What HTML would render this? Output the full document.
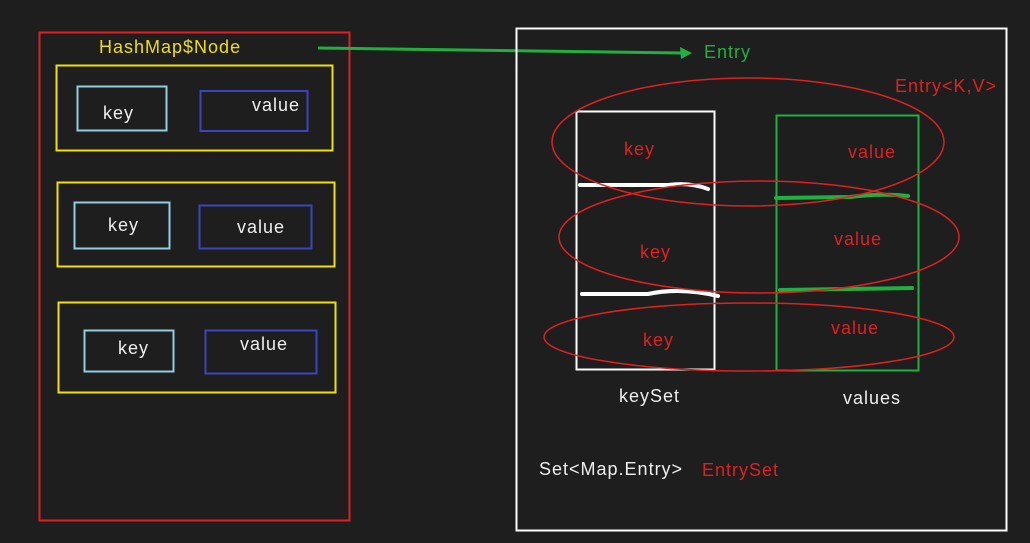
<!DOCTYPE html>
<html><head><meta charset="utf-8"><style>
html,body{margin:0;padding:0;background:#1e1e1e;}
svg{display:block;}
text{font-family:"Liberation Sans","Noto Sans CJK SC",sans-serif;font-size:18px;letter-spacing:1px;}
</style></head><body>
<svg width="1030" height="543" viewBox="0 0 1030 543" xmlns="http://www.w3.org/2000/svg">
<rect width="1030" height="543" fill="#1e1e1e"/>
<rect x="39.5" y="32.5" width="310" height="488" fill="none" stroke="#e02020" stroke-width="2"/>
<text x="99" y="53" fill="#f0e000">HashMap$Node</text>
<rect x="56.5" y="65.5" width="276" height="85" fill="none" stroke="#f0e000" stroke-width="2"/>
<rect x="77.5" y="86.5" width="89" height="44" fill="none" stroke="#8fd0e0" stroke-width="2"/>
<text x="103" y="119" fill="#eee">key</text>
<rect x="200.5" y="91" width="107" height="40" fill="none" stroke="#3a45c0" stroke-width="2"/>
<text x="252" y="111" fill="#eee">value</text>

<rect x="57.5" y="182.5" width="277" height="84" fill="none" stroke="#f0e000" stroke-width="2"/>
<rect x="74.5" y="202.5" width="95" height="46" fill="none" stroke="#8fd0e0" stroke-width="2"/>
<text x="108" y="231" fill="#eee">key</text>
<rect x="199.5" y="205.5" width="112" height="43" fill="none" stroke="#3a45c0" stroke-width="2"/>
<text x="237" y="233" fill="#eee">value</text>

<rect x="58.5" y="302.5" width="277" height="90" fill="none" stroke="#f0e000" stroke-width="2"/>
<rect x="84.5" y="330.5" width="89" height="41" fill="none" stroke="#8fd0e0" stroke-width="2"/>
<text x="118" y="354" fill="#eee">key</text>
<rect x="205.5" y="330.5" width="111" height="43" fill="none" stroke="#3a45c0" stroke-width="2"/>
<text x="240" y="350" fill="#eee">value</text>

<line x1="318" y1="48" x2="683" y2="53" stroke="#20b040" stroke-width="3"/>
<polygon points="692,53 680,47 681,59" fill="#20b040"/>
<text x="704" y="58" fill="#20b040">Entry</text>

<rect x="516.5" y="28.5" width="490" height="502" fill="none" stroke="#fff" stroke-width="2"/>
<text x="895" y="92" fill="#e02020">Entry&lt;K,V&gt;</text>
<rect x="576.5" y="111.5" width="138" height="258" fill="none" stroke="#fff" stroke-width="2"/>
<rect x="776.5" y="115.5" width="142" height="255" fill="none" stroke="#20b040" stroke-width="2"/>
<path d="M580 185 L668 185 Q690 182 708 189" stroke="#fff" stroke-width="4" fill="none" stroke-linecap="round"/>
<path d="M582 294 L648 294 Q680 287 718 296" stroke="#fff" stroke-width="4" fill="none" stroke-linecap="round"/>
<path d="M776 198 L850 197 Q880 193 908 196" stroke="#20b040" stroke-width="4" fill="none" stroke-linecap="round"/>
<path d="M780 290 L912 288" stroke="#20b040" stroke-width="4" fill="none" stroke-linecap="round"/>
<ellipse cx="748" cy="142" rx="196" ry="64" fill="none" stroke="#e02020" stroke-width="1.5"/>
<ellipse cx="759" cy="237" rx="200" ry="56" fill="none" stroke="#e02020" stroke-width="1.5"/>
<ellipse cx="749" cy="337" rx="205" ry="34" fill="none" stroke="#e02020" stroke-width="1.5"/>
<text x="624" y="155" fill="#e02020">key</text>
<text x="848" y="158" fill="#e02020">value</text>
<text x="640" y="258" fill="#e02020">key</text>
<text x="834" y="245" fill="#e02020">value</text>
<text x="643" y="346" fill="#e02020">key</text>
<text x="831" y="334" fill="#e02020">value</text>
<text x="619" y="402" fill="#eee">keySet</text>
<text x="843" y="404" fill="#eee">values</text>
<text x="539" y="475" fill="#eee">Set&lt;Map.Entry&gt;</text>
<text x="702" y="476" fill="#e02020">EntrySet</text>
</svg>
</body></html>
